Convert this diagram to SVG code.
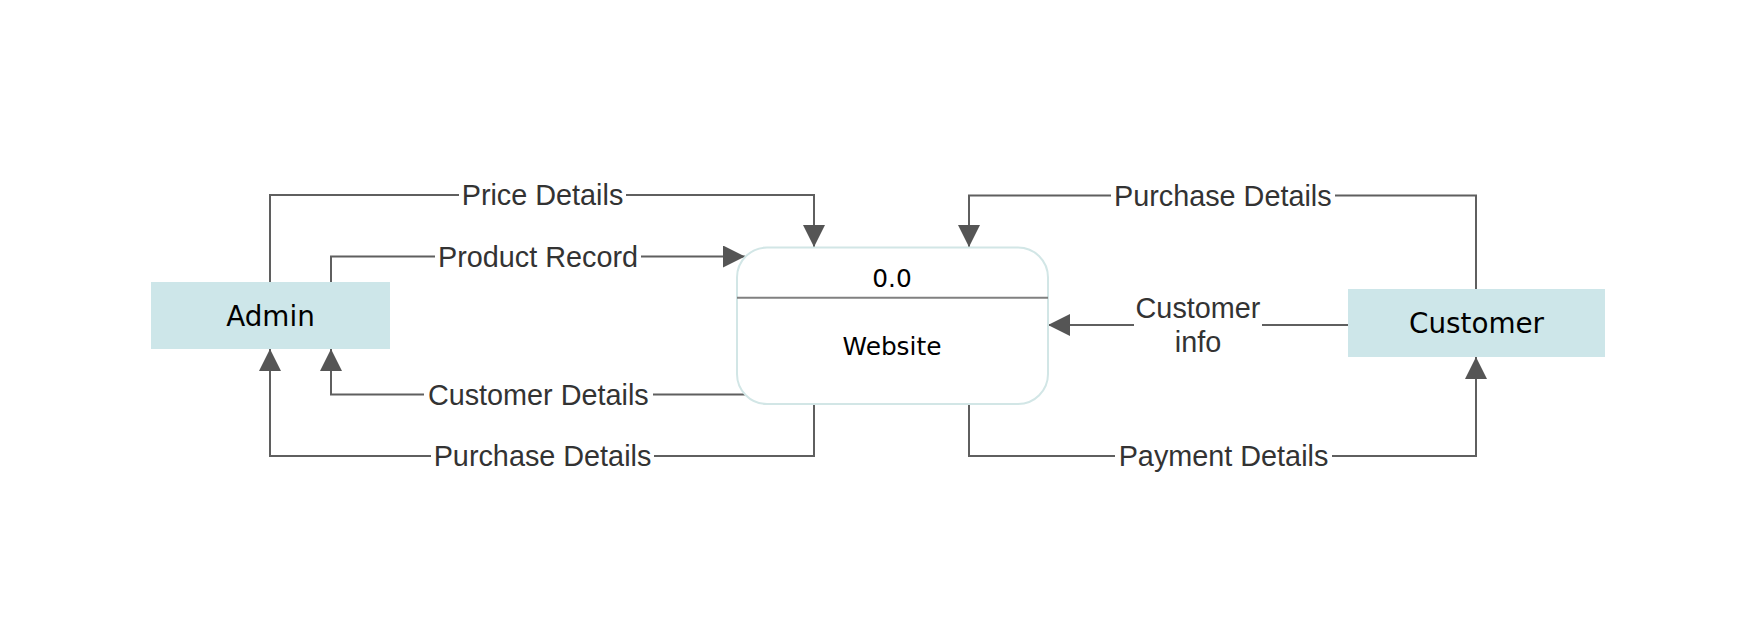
<svg xmlns="http://www.w3.org/2000/svg" width="1745" height="636" viewBox="0 0 1745 636">
  <style>
    .conn { fill: none; stroke: #5f5f5f; stroke-width: 2; }
    .lbl { font-family: "Liberation Sans", Arial, sans-serif; font-size: 28.8px; fill: #333333; text-anchor: middle; }
    .lblbg { fill: #ffffff; }
    .ent { fill: #cde6e9; }
    .enttxt { font-family: "DejaVu Sans", Verdana, sans-serif; font-size: 27.8px; fill: #000000; text-anchor: middle; }
    .proc { fill: #ffffff; stroke: #d2e6e6; stroke-width: 2; }
    .proctxt { font-family: "DejaVu Sans", Verdana, sans-serif; font-size: 24.8px; fill: #000000; text-anchor: middle; }
    .sep { stroke: #808080; stroke-width: 2; }
  </style>
  <defs>
    <marker id="arrow" markerUnits="userSpaceOnUse" markerWidth="22" markerHeight="22" viewBox="0 0 20 20" refX="20" refY="10" orient="auto">
      <path d="M0 0 L20 10 L0 20 Z" fill="#555555"/>
    </marker>
  </defs>
  <rect width="1745" height="636" fill="#ffffff"/>

  <g id="connectors">
    <path class="conn" d="M270 282 V195 H814 V247" marker-end="url(#arrow)"/>
    <path class="conn" d="M331 282 V256.5 H745" marker-end="url(#arrow)"/>
    <path class="conn" d="M746 394.5 H331 V349" marker-end="url(#arrow)"/>
    <path class="conn" d="M814 404 V456 H270 V349" marker-end="url(#arrow)"/>
    <path class="conn" d="M1476 289 V195.5 H969 V247" marker-end="url(#arrow)"/>
    <path class="conn" d="M1348 325 H1048" marker-end="url(#arrow)"/>
    <path class="conn" d="M969 404 V456 H1476 V357" marker-end="url(#arrow)"/>

    <g id="label-price-details">
      <rect class="lblbg" x="459" y="180" width="167" height="30"/>
      <text class="lbl" x="542.5" y="205.3">Price Details</text>
    </g>
    <g id="label-product-record">
      <rect class="lblbg" x="435" y="241" width="206" height="30"/>
      <text class="lbl" x="538" y="266.8">Product Record</text>
    </g>
    <g id="label-customer-details">
      <rect class="lblbg" x="424" y="379" width="229" height="30"/>
      <text class="lbl" x="538.3" y="404.8">Customer Details</text>
    </g>
    <g id="label-purchase-details-admin">
      <rect class="lblbg" x="431" y="441" width="223" height="30"/>
      <text class="lbl" x="542.5" y="466.3">Purchase Details</text>
    </g>
    <g id="label-purchase-details-customer">
      <rect class="lblbg" x="1111" y="180" width="224" height="30"/>
      <text class="lbl" x="1222.8" y="205.8">Purchase Details</text>
    </g>
    <g id="label-customer-info">
      <rect class="lblbg" x="1134" y="292" width="128" height="68"/>
      <text class="lbl" x="1198" y="318.3">Customer</text>
      <text class="lbl" x="1198" y="351.7">info</text>
    </g>
    <g id="label-payment-details">
      <rect class="lblbg" x="1115" y="441" width="217" height="30"/>
      <text class="lbl" x="1223.5" y="466.3">Payment Details</text>
    </g>
  </g>

  <g id="node-admin">
    <rect class="ent" x="151" y="282" width="239" height="67"/>
    <text class="enttxt" x="270.5" y="325.7">Admin</text>
  </g>

  <g id="node-website">
    <rect class="proc" x="737" y="247.5" width="311" height="156.5" rx="30" ry="30"/>
    <line class="sep" x1="737" y1="297.7" x2="1048" y2="297.7"/>
    <text class="proctxt" x="892" y="286.7">0.0</text>
    <text class="proctxt" x="892" y="355">Website</text>
  </g>

  <g id="node-customer">
    <rect class="ent" x="1348" y="289" width="257" height="68"/>
    <text class="enttxt" x="1476.5" y="333.3">Customer</text>
  </g>
</svg>
